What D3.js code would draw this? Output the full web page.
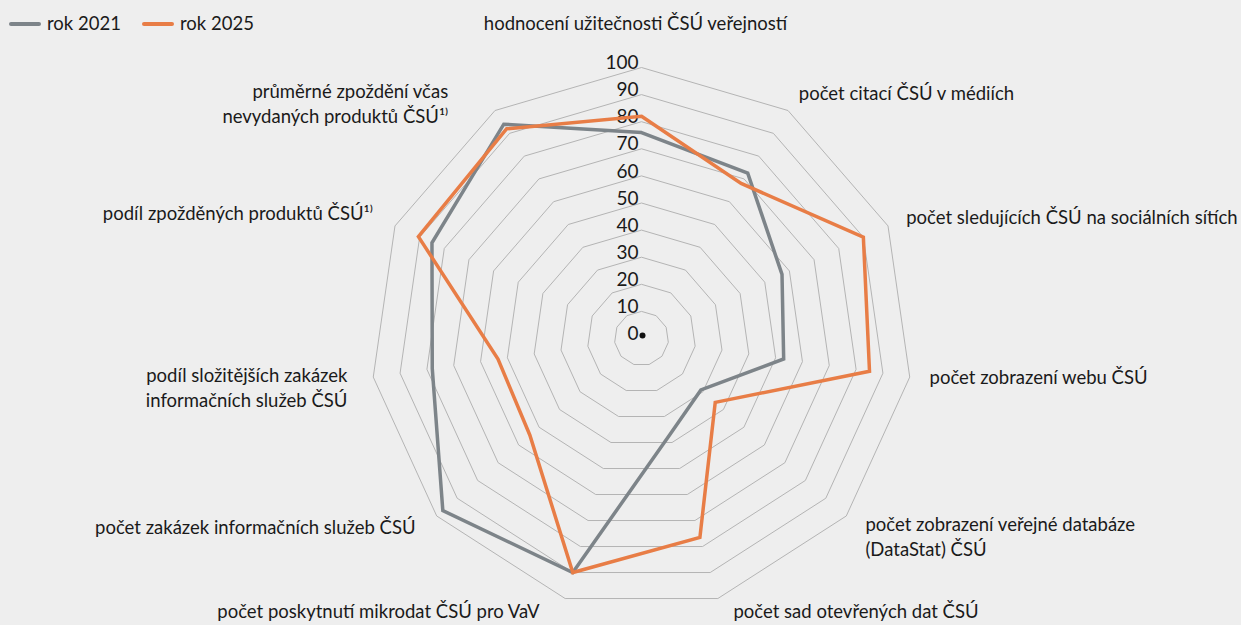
<!DOCTYPE html>
<html>
<head>
<meta charset="utf-8">
<script src="https://cdn.jsdelivr.net/npm/d3@7"></script>
<style>
  body { margin: 0; background: #eeeeee; }
  svg { display: block; font-family: "Lato", "Noto Sans", sans-serif; }
</style>
</head>
<body>
<svg id="radar" width="1241" height="625"></svg>
<script>
// axis categories, clockwise from the top
const categories = [
    ["hodnocení užitečnosti ČSÚ veřejností"],
    ["počet citací ČSÚ v médiích"],
    ["počet sledujících ČSÚ na sociálních sítích"],
    ["počet zobrazení webu ČSÚ"],
    ["počet zobrazení veřejné databáze", "(DataStat) ČSÚ"],
    ["počet sad otevřených dat ČSÚ"],
    ["počet poskytnutí mikrodat ČSÚ pro VaV"],
    ["počet zakázek informačních služeb ČSÚ"],
    ["podíl složitějších zakázek", "informačních služeb ČSÚ"],
    ["podíl zpožděných produktů ČSÚ¹⁾"],
    ["průměrné zpoždění včas", "nevydaných produktů ČSÚ¹⁾"]
];

const values2021 = [76, 72.5, 57, 53, 29, 37, 90, 97, 78, 85, 94];
const values2025 = [82, 68, 90, 85, 36, 76.5, 90, 54.5, 53.5, 90.5, 92];

const ticks = [0, 10, 20, 30, 40, 50, 60, 70, 80, 90, 100];

const seriesNames = ["rok 2021", "rok 2025"];
const seriesColors = ["#7d8489", "#e87d46"];

// label nudges (dx, dy) after the radial placement
const labelNudge = [[-6, -24], [0, 0], [0, 0], [0, -2], [4, 8], [10, -6], [-20, -6], [-6, -2], [-6, 8], [-4, -4], [-36, 10]];

const svg = d3.select("#radar");
const cx = 641.5, cy = 338.5, R = 271;
const n = categories.length;

const r = d3.scaleLinear().domain([0, 100]).range([0, R]);
const angle = d3.scaleLinear().domain([0, n]).range([0, 2 * Math.PI]);

function pt(i, v) {
    const a = angle(i);
    return [cx + r(v) * Math.sin(a), cy - r(v) * Math.cos(a)];
}

// rings
const ring = d3.line().curve(d3.curveLinearClosed);
svg.append("g").selectAll("path")
    .data(ticks.filter(t => t > 0))
    .enter().append("path")
    .attr("d", t => ring(d3.range(n).map(i => pt(i, t))))
    .attr("fill", "none")
    .attr("stroke", "#b4b4b4")
    .attr("stroke-width", 1);

// tick labels
svg.append("g").selectAll("text")
    .data(ticks)
    .enter().append("text")
    .attr("x", cx - 3)
    .attr("y", t => cy - r(t) - 5)
    .attr("dy", "0.35em")
    .attr("text-anchor", "end")
    .attr("font-size", 19)
    .attr("fill", "#1a1a1a")
    .text(t => t);

svg.append("circle")
    .attr("cx", cx + 1).attr("cy", cy - 3).attr("r", 3)
    .attr("fill", "#111");

// series
const line = d3.line().curve(d3.curveLinearClosed);
[values2021, values2025].forEach((vals, k) => {
    svg.append("path")
        .attr("d", line(vals.map((v, i) => pt(i, v))))
        .attr("fill", "none")
        .attr("stroke", seriesColors[k])
        .attr("stroke-width", 3.5)
        .attr("stroke-linejoin", "miter");
});

// category labels
const labelR = R + 20;
const lab = svg.append("g").attr("font-size", 18.5).attr("fill", "#1a1a1a");
categories.forEach((lines, i) => {
    const a = angle(i), s = Math.sin(a), c = Math.cos(a);
    const x = cx + labelR * s, y = cy - labelR * c;
    const anchor = Math.abs(s) < 0.01 ? "middle" : (s > 0 ? "start" : "end");
    const lh = 25;
    let y0 = y - (lines.length - 1) * lh / 2;
    if (c > 0.9) y0 = y - (lines.length - 1) * lh;
    const t = lab.append("text")
        .attr("text-anchor", anchor)
        .attr("transform", `translate(${x + labelNudge[i][0]},${y0 + labelNudge[i][1]})`);
    lines.forEach((l, j) => {
        t.append("tspan").attr("x", 0).attr("y", j * lh).attr("dy", "0.35em").text(l);
    });
});

// legend
const leg = svg.append("g").attr("font-size", 18.5).attr("fill", "#1a1a1a");
const legX = [11, 144];
seriesNames.forEach((name, k) => {
    leg.append("line")
        .attr("x1", legX[k]).attr("x2", legX[k] + 28)
        .attr("y1", 24).attr("y2", 24)
        .attr("stroke", seriesColors[k]).attr("stroke-width", 4)
        .attr("stroke-linecap", "round");
    leg.append("text")
        .attr("x", legX[k] + 36).attr("y", 24).attr("dy", "0.35em")
        .text(name);
});
</script>
</body>
</html>
